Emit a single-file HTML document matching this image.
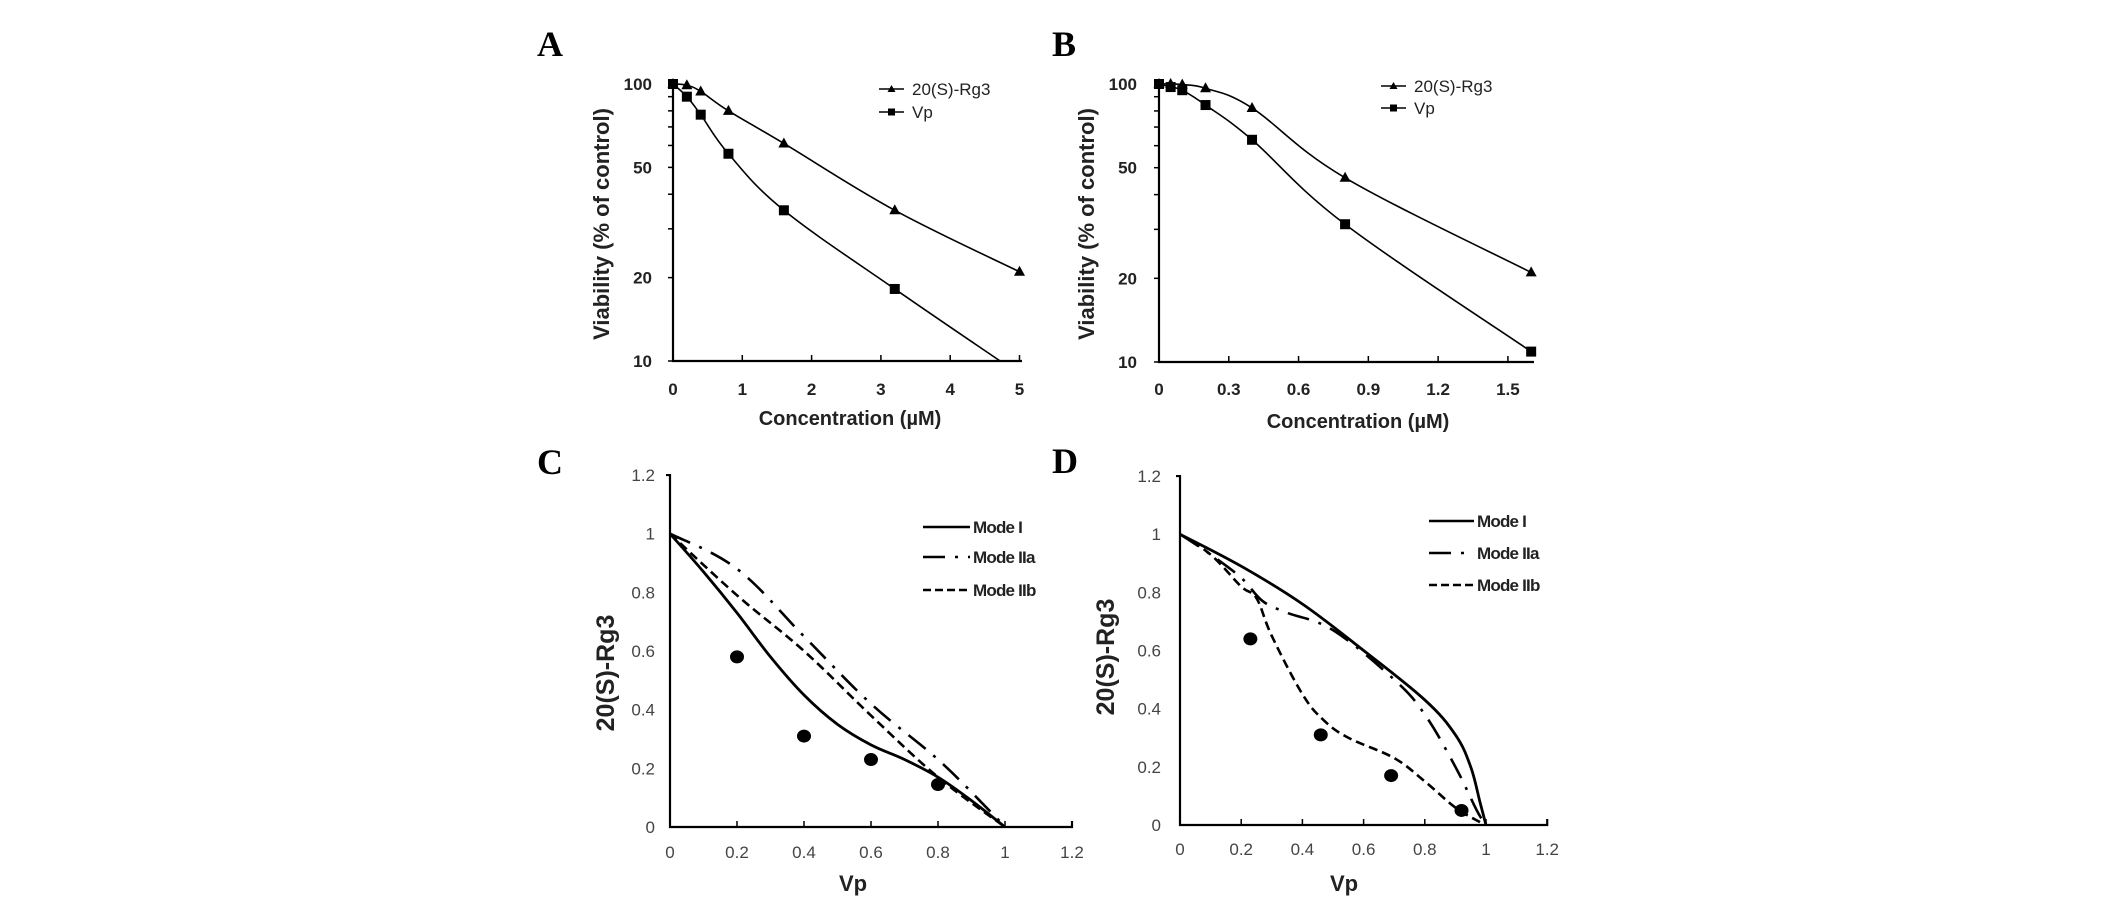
<!DOCTYPE html>
<html><head><meta charset="utf-8"><style>
html,body{margin:0;padding:0;background:#fff;}
svg{display:block;}
text{font-family:"Liberation Sans",sans-serif;fill:#222;}
.tk{font-size:17px;font-weight:bold;}
.tk2{font-size:17px;fill:#444;}
.ttl{font-size:20px;font-weight:bold;}
.let{font-family:"Liberation Serif",serif;font-size:36px;font-weight:bold;fill:#000;}
.lg{font-size:17px;}
.lgb{font-size:17px;font-weight:bold;letter-spacing:-0.8px;}
</style></head><body>
<svg id="fig" width="2124" height="916" viewBox="0 0 2124 916" xmlns="http://www.w3.org/2000/svg"></svg>
<script>
// Panel A data
const aRg3X=[0,0.2,0.4,0.8,1.6,3.2,5];
const aRg3Y=[100,99,94,80,61,35,21];
const aVpX=[0,0.2,0.4,0.8,1.6,3.2,4.72];
const aVpY=[100,90,77.5,56,35,18.2,10];
const aXTicks=[0,1,2,3,4,5];
// Panel B data
const bRg3X=[0,0.05,0.1,0.2,0.4,0.8,1.6];
const bRg3Y=[100,100,99.5,96.5,82,46,21];
const bVpX=[0,0.05,0.1,0.2,0.4,0.8,1.6];
const bVpY=[100,97.5,95,84,63,31.3,10.9];
const bXTicks=[0,0.3,0.6,0.9,1.2,1.5];
const bXLabels=["0","0.3","0.6","0.9","1.2","1.5"];
const logTicks=[100,90,80,70,60,50,40,30,20,10];
const logLabels=[100,50,20,10];
// Panel C data
const cDotX=[0.2,0.4,0.6,0.8];
const cDotY=[0.58,0.31,0.23,0.145];
const cM1X=[0,0.1,0.2,0.3,0.4,0.5,0.6,0.7,0.8,0.9,1];
const cM1Y=[1,0.87,0.73,0.58,0.45,0.35,0.28,0.23,0.17,0.09,0];
const cM2aX=[0,0.2,0.4,0.6,0.8,0.95,1];
const cM2aY=[1,0.88,0.65,0.42,0.23,0.06,0];
const cM2bX=[0,0.2,0.4,0.6,0.8,1];
const cM2bY=[1,0.79,0.6,0.38,0.17,0];
// Panel D data
const dDotX=[0.23,0.46,0.69,0.92];
const dDotY=[0.64,0.31,0.17,0.05];
const dM1X=[0,0.2,0.4,0.6,0.8,0.9,0.95,0.98,1];
const dM1Y=[1,0.89,0.76,0.6,0.43,0.31,0.2,0.08,0];
const dM2aX=[0,0.1,0.2,0.27,0.35,0.5,0.7,0.8,0.9,0.97,1];
const dM2aY=[1,0.93,0.85,0.77,0.73,0.67,0.5,0.38,0.2,0.05,0];
const dM2bX=[0,0.1,0.2,0.25,0.3,0.4,0.47,0.55,0.7,0.8,0.9,0.98,1];
const dM2bY=[1,0.93,0.82,0.78,0.65,0.45,0.36,0.3,0.23,0.15,0.06,0.01,0];
const linTicks=[0,0.2,0.4,0.6,0.8,1,1.2];
const linLabels=["0","0.2","0.4","0.6","0.8","1","1.2"];

const NS="http://www.w3.org/2000/svg";
const fig=document.getElementById('fig');
function mk(tag,attrs,parent,txt){const e=document.createElementNS(NS,tag);for(const k in attrs)e.setAttribute(k,attrs[k]);if(txt!==undefined)e.textContent=txt;(parent||fig).appendChild(e);return e;}
function smooth(pts){let d='M'+pts[0][0]+','+pts[0][1];for(let i=0;i<pts.length-1;i++){const p0=pts[i-1]||pts[i],p1=pts[i],p2=pts[i+1],p3=pts[i+2]||p2;const t=0.18;const c1=[p1[0]+(p2[0]-p0[0])*t,p1[1]+(p2[1]-p0[1])*t];const c2=[p2[0]-(p3[0]-p1[0])*t,p2[1]-(p3[1]-p1[1])*t];d+=' C'+c1[0]+','+c1[1]+' '+c2[0]+','+c2[1]+' '+p2[0]+','+p2[1];}return d;}

function logPanel(o){
  const g=mk('g',{});
  
  
  const sx=v=>o.x0+(v-o.xmin)*o.xs;
  const sy=v=>o.y10-(Math.log10(v)-1)*o.dec;
  const let_=mk('text',{x:o.lx,y:o.ly,class:'let'},g,o.letter);
  
  const ax=mk('path',{d:`M${sx(0)},${sy(100)} V${sy(10)} H${o.xEnd}`,stroke:'#000','stroke-width':2.2,fill:'none'},g);
  
  logTicks.forEach(v=>{mk('line',{x1:sx(0)-5,x2:sx(0),y1:sy(v),y2:sy(v),stroke:'#000','stroke-width':1.5},g);});
  logLabels.forEach(v=>{const t=mk('text',{x:o.ylr,y:sy(v)+6,class:'tk','text-anchor':'end'},g,String(v));});
  o.xt.forEach((v,i)=>{mk('line',{x1:sx(v),x2:sx(v),y1:sy(10),y2:sy(10)-6,stroke:'#000','stroke-width':1.5},g);
    const t=mk('text',{x:sx(v),y:o.xly,class:'tk','text-anchor':'middle'},g,o.xl[i]);});
  const xt=mk('text',{x:o.xtx,y:o.xty,class:'ttl','text-anchor':'middle'},g,'Concentration (\u00b5M)');
  
  const yt=mk('text',{x:0,y:0,class:'ttl','text-anchor':'middle',transform:`translate(${o.ytx},${o.yty}) rotate(-90)`,style:'font-size:22px'},g,'Viability (% of control)');
  
  const s1=mk('path',{d:smooth(o.r3x.map((x,i)=>[sx(x),sy(o.r3y[i])])),stroke:'#000','stroke-width':1.6,fill:'none'},g);
  
  o.r3x.forEach((x,i)=>{const px=sx(x),py=sy(o.r3y[i]);const m=mk('path',{d:`M${px},${py-6} L${px+5.5},${py+4} L${px-5.5},${py+4}Z`,fill:'#000'},g);});
  const s2=mk('path',{d:smooth(o.vpx.map((x,i)=>[sx(x),sy(o.vpy[i])])),stroke:'#000','stroke-width':1.6,fill:'none'},g);
  
  o.vpx.forEach((x,i)=>{if(o.vpy[i]<=10.01&&o.noEndMark)return;const px=sx(x),py=sy(o.vpy[i]);const m=mk('rect',{x:px-5,y:py-5,width:10,height:10,fill:'#000'},g);});
  const lg=mk('g',{},g);
  mk('line',{x1:o.lgx,x2:o.lgx+25,y1:o.lgy1,y2:o.lgy1,stroke:'#000','stroke-width':1.6},lg);
  mk('path',{d:`M${o.lgx+12.5},${o.lgy1-4} l4,7 h-8z`,fill:'#000'},lg);
  mk('text',{x:o.lgx+33,y:o.lgy1+6,class:'lg'},lg,'20(S)-Rg3');
  mk('line',{x1:o.lgx,x2:o.lgx+25,y1:o.lgy2,y2:o.lgy2,stroke:'#000','stroke-width':1.6},lg);
  mk('rect',{x:o.lgx+9,y:o.lgy2-3.5,width:7,height:7,fill:'#000'},lg);
  mk('text',{x:o.lgx+33,y:o.lgy2+6,class:'lg'},lg,'Vp');
}
logPanel({name:'panel-a',letter:'A',lx:537,ly:56,x0:673,xmin:0,xs:69.3,y10:361,dec:277,xEnd:1022,ylr:652,
  xt:aXTicks,xl:aXTicks.map(String),xly:395,xtx:850,xty:425,ytx:609,yty:224,
  r3x:aRg3X,r3y:aRg3Y,vpx:aVpX,vpy:aVpY,noEndMark:true,lgx:879,lgy1:89,lgy2:112});
logPanel({name:'panel-b',letter:'B',lx:1052,ly:56,x0:1159,xmin:0,xs:232.6,y10:362,dec:278,xEnd:1534,ylr:1137,
  xt:bXTicks,xl:bXLabels,xly:395,xtx:1358,xty:428,ytx:1094,yty:224,
  r3x:bRg3X,r3y:bRg3Y,vpx:bVpX,vpy:bVpY,noEndMark:false,lgx:1381,lgy1:86,lgy2:108});

function linPanel(o){
  const g=mk('g',{});
  
  
  const sx=v=>o.x0+v*o.xs;
  const sy=v=>o.y0-v*o.ys;
  const l=mk('text',{x:o.lx,y:o.ly,class:'let'},g,o.letter);
  const ax=mk('path',{d:`M${sx(0)-4},${sy(1.2)} H${sx(0)} V${sy(0)} H${sx(1.2)} V${sy(0)-6}`,stroke:'#000','stroke-width':2.2,fill:'none'},g);
  
  linTicks.forEach((v,i)=>{
    if(i>0&&i<6)mk('line',{x1:sx(v),x2:sx(v),y1:sy(0),y2:sy(0)-6,stroke:'#000','stroke-width':1.5},g);
    const t=mk('text',{x:o.ylr,y:sy(v)+6,class:'tk2','text-anchor':'end'},g,linLabels[i]);
    const t2=mk('text',{x:sx(v),y:o.xly,class:'tk2','text-anchor':'middle'},g,linLabels[i]);
  });
  const xt=mk('text',{x:o.xtx,y:o.xty,class:'ttl','text-anchor':'middle',style:'font-size:22px'},g,'Vp');
  const yt=mk('text',{x:0,y:0,class:'ttl','text-anchor':'middle',transform:`translate(${o.ytx},${o.yty}) rotate(-90)`,style:'font-size:25px;font-weight:bold'},g,'20(S)-Rg3');
  const styles=[{d:'',n:'mode-i-line'},{d:'22,10,3,10',n:'mode-iia-line'},{d:'9,5',n:'mode-iib-line'}];
  [[o.m1x,o.m1y],[o.m2ax,o.m2ay],[o.m2bx,o.m2by]].forEach((s,k)=>{
    const p=mk('path',{d:smooth(s[0].map((x,i)=>[sx(x),sy(s[1][i])])),stroke:'#000','stroke-width':k==0?2.8:2.6,fill:'none','stroke-dasharray':styles[k].d},g);
    
  });
  o.dx.forEach((x,i)=>{const c=mk('ellipse',{cx:sx(x),cy:sy(o.dy[i]),rx:7,ry:6.5,fill:'#000'},g);});
  const lg=mk('g',{},g);
  const names=['Mode I','Mode IIa','Mode IIb'];
  o.lgy.forEach((y,k)=>{
    mk('line',{x1:o.lgx,x2:o.lgx+o.lgw,y1:y,y2:y,stroke:'#000','stroke-width':2.6,'stroke-dasharray':k==1?'22,10,3,10':(k==2?'8,4':'')},lg);
    mk('text',{x:o.lgx+o.lgw+3,y:y+6,class:'lgb'},lg,names[k]);
  });
}
linPanel({name:'panel-c',letter:'C',lx:537,ly:474,x0:670,xs:335,y0:827,ys:293.3,ylr:655,xly:858,xtx:853,xty:891,ytx:614,yty:673,
  m1x:cM1X,m1y:cM1Y,m2ax:cM2aX,m2ay:cM2aY,m2bx:cM2bX,m2by:cM2bY,dx:cDotX,dy:cDotY,lgx:923,lgw:47,lgy:[527,557,590]});
linPanel({name:'panel-d',letter:'D',lx:1052,ly:473,x0:1180,xs:306,y0:825,ys:290.8,ylr:1161,xly:855,xtx:1344,xty:891,ytx:1114,yty:657,
  m1x:dM1X,m1y:dM1Y,m2ax:dM2aX,m2ay:dM2aY,m2bx:dM2bX,m2by:dM2bY,dx:dDotX,dy:dDotY,lgx:1429,lgw:45,lgy:[521,553,585]});
</script>
</body></html>
